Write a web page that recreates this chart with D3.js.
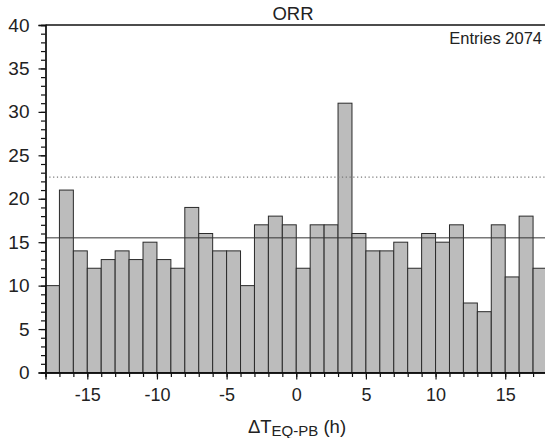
<!DOCTYPE html>
<html>
<head>
<meta charset="utf-8">
<script src="https://cdn.jsdelivr.net/npm/d3@7"></script>
<style>
  body { margin: 0; background: #fff; }
  svg { display: block; font-family: "Liberation Sans", Arial, sans-serif; }
</style>
</head>
<body>
<script>
// histogram bins, 1 h wide, from -18 to 18
const binStarts = d3.range(-18, 18)
const counts = [10, 21, 14, 12, 13, 14, 13, 15, 13, 12,
                19, 16, 14, 14, 10, 17, 18, 17, 12, 17,
                17, 31, 16, 14, 14, 15, 12, 16, 15, 17,
                8, 7, 17, 11, 18, 12]
const meanLevel = 15.5
const upperLevel = 22.5
const xTicks = [-15, -10, -5, 0, 5, 10, 15]
const yTicks = [0, 5, 10, 15, 20, 25, 30, 35, 40]
const title = 'ORR'
const entriesLabel = 'Entries 2074'

const W = 545, H = 438
const plotLeft = 45.5, plotTop = 25, plotBottom = 372.5, plotRight = 547

const svg = d3.select('body').append('svg')
  .attr('width', W)
  .attr('height', H)

const x = d3.scaleLinear().domain([-18, 18]).range([plotLeft, plotRight])
const y = d3.scaleLinear().domain([0, 40]).range([plotBottom, plotTop])

const bins = binStarts.map((b, i) => ({x0: b, x1: b + 1, n: counts[i]}))

svg.selectAll('rect.bar')
  .data(bins)
  .enter()
  .append('rect')
  .attr('class', 'bar')
  .attr('x', d => x(d.x0))
  .attr('width', d => x(d.x1) - x(d.x0))
  .attr('y', d => y(d.n))
  .attr('height', d => y(0) - y(d.n))
  .style('fill', '#bcbcbc')
  .style('stroke', '#2a2a2a')
  .style('stroke-width', 1)

// reference levels
svg.append('line')
  .attr('x1', plotLeft).attr('x2', W)
  .attr('y1', y(meanLevel)).attr('y2', y(meanLevel))
  .style('stroke', '#333').style('stroke-width', 1)

svg.append('line')
  .attr('x1', plotLeft).attr('x2', W)
  .attr('y1', y(upperLevel)).attr('y2', y(upperLevel))
  .style('stroke', '#777').style('stroke-width', 1.2)
  .style('stroke-dasharray', '1.2,2.6')

// frame top
svg.append('line')
  .attr('x1', plotLeft).attr('x2', W)
  .attr('y1', y(40)).attr('y2', y(40))
  .style('stroke', '#111').style('stroke-width', 1.3)

// y axis: minor ticks every 1, major every 5
const yAxisMinor = d3.axisLeft(y).tickValues(d3.range(0, 41)).tickSize(4.5).tickFormat('')
const yAxis = d3.axisLeft(y).tickValues(yTicks).tickSize(7).tickPadding(9)

svg.append('g').attr('transform', `translate(${plotLeft},0)`).call(yAxisMinor)
const gy = svg.append('g').attr('transform', `translate(${plotLeft},0)`).call(yAxis)

const xAxisMinor = d3.axisBottom(x).tickValues(d3.range(-18, 19)).tickSize(4.5).tickFormat('')
const xAxis = d3.axisBottom(x).tickValues(xTicks).tickSize(7).tickPadding(9)
  .tickFormat(d => d)

svg.append('g').attr('transform', `translate(0,${plotBottom})`).call(xAxisMinor)
const gx = svg.append('g').attr('transform', `translate(0,${plotBottom})`).call(xAxis)

svg.selectAll('.domain').style('stroke', '#111').style('stroke-width', 1.3)
svg.selectAll('.tick line').style('stroke', '#111').style('stroke-width', 1.2)
gy.selectAll('text').style('font-size', '19px').style('fill', '#222')
gx.selectAll('text').style('font-size', '18px').style('fill', '#222')

svg.append('text')
  .attr('x', 293).attr('y', 19.5)
  .attr('text-anchor', 'middle')
  .style('font-size', '18.5px').style('fill', '#222')
  .text(title)

svg.append('text')
  .attr('x', 542).attr('y', 43.5)
  .attr('text-anchor', 'end')
  .style('font-size', '16.5px').style('fill', '#222')
  .text(entriesLabel)

const xl = svg.append('text')
  .attr('x', 297).attr('y', 433)
  .attr('text-anchor', 'middle')
  .style('font-size', '18.5px').style('fill', '#222')
xl.append('tspan').text('\u0394T')
xl.append('tspan').attr('dy', 3).style('font-size', '15px').text('EQ-PB')
xl.append('tspan').attr('dy', -3).text(' (h)')
</script>
</body>
</html>
